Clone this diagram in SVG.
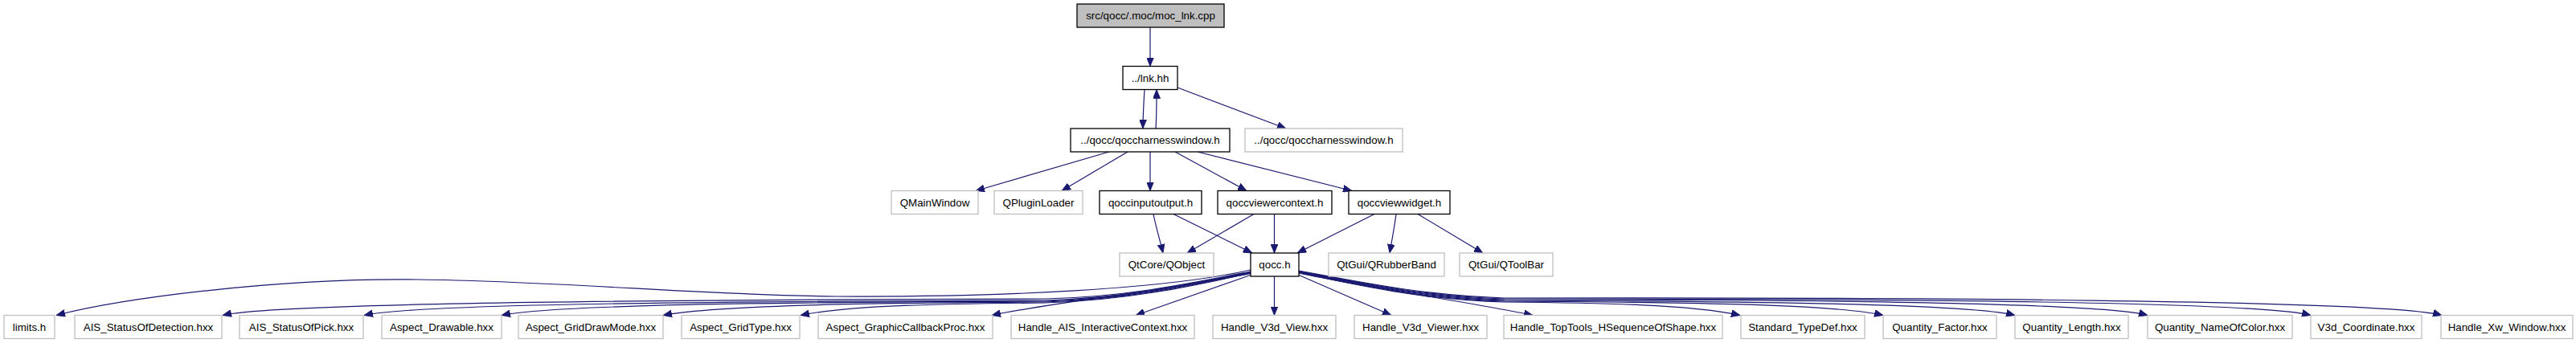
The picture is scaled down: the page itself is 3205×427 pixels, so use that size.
<svg xmlns="http://www.w3.org/2000/svg" width="3205" height="427" viewBox="0 0 3205 427">
<defs>
<style>
rect{fill:#fff;stroke:#000;stroke-width:1.3}
.g rect{stroke:#bfbfbf}
.root rect{fill:#bfbfbf}
text{font-family:"Liberation Sans",Arial,sans-serif;font-size:13.33px;text-anchor:middle;fill:#000}
#edges path{fill:none;stroke:#191970;stroke-width:1.2;marker-end:url(#ah)}
</style>
<marker id="ah" markerUnits="userSpaceOnUse" markerWidth="11" markerHeight="9" refX="11" refY="4.5" orient="auto">
<path d="M0,0 L11,4.5 L0,9 z" fill="#191970" stroke="#191970" stroke-width="0.8"/>
</marker>
</defs>
<rect x="0" y="0" width="3205" height="427" style="fill:#fff;stroke:none"/>
<g id="edges">
<path d="M1431,34 L1431,82.5"/>
<path d="M1424,111.5 C1423,128 1422,143 1422,160"/>
<path d="M1438,160 C1439,145 1439,128 1439,111.5"/>
<path d="M1465,109 L1600,160"/>
<path d="M1380,189 L1214,237.5"/>
<path d="M1403,189 L1321,237.5"/>
<path d="M1431,189 L1431,237.5"/>
<path d="M1462,189 L1551,237.5"/>
<path d="M1490,189 L1682,237.5"/>
<path d="M1435,266.5 C1438,282 1443,298 1447,315"/>
<path d="M1460,266.5 L1558,315"/>
<path d="M1560,266.5 L1477,315"/>
<path d="M1585.5,266.5 L1585.5,315"/>
<path d="M1710,266.5 L1614,315"/>
<path d="M1737,266.5 C1735,282 1732,298 1729,315"/>
<path d="M1764,266.5 L1845,315"/>
<path d="M1557,342 L1413,392.5"/>
<path d="M1585.5,344 L1585.5,392.5"/>
<path d="M1615,342 L1731,392.5"/>
<path d="M1556,336 C1450,360 1250,370 1040,369 C880,368 700,350 520,348 C340,346 150,372 70,392.5"/>
<path d="M1556,338 C1480,353 1400,370 1300,372 C891,373 347,376 277,392.5"/>
<path d="M1556,338.5 C1480,354 1400,371 1300,374 C961,375 523,377 453,392.5"/>
<path d="M1556,339 C1480,355 1400,372 1300,375 C1030,376 694,378 624,392.5"/>
<path d="M1556,339.5 C1480,356 1400,373 1300,376 C1110,377 895,379 825,392.5"/>
<path d="M1556,340 C1480,357 1400,374 1300,377 C1178,378 1056,380 996,392.5"/>
<path d="M1556,340.5 C1460,360 1300,378 1234,392.5"/>
<path d="M1616,340 C1700,358 1840,378 1907,392.5"/>
<path d="M1616,339.5 C1692,356 1772,373 1872,376 C1989,377 2105,379 2165,392.5"/>
<path d="M1616,339 C1692,355 1772,372 1872,375 C2060,376 2283,378 2343,392.5"/>
<path d="M1616,338.5 C1692,354 1772,371 1872,374 C2126,375 2447,377 2507,392.5"/>
<path d="M1616,338 C1692,353 1772,370 1872,373 C2192,373 2612,376 2672,392.5"/>
<path d="M1616,337.5 C1692,352 1772,369 1872,372 C2273,372 2805,374 2875,392.5"/>
<path d="M1616,337 C1692,351 1772,368 1872,371 C2341,370 2968,373 3038,392.5"/>
</g>
<g id="n_root" class="root"><rect x="1340" y="5" width="183" height="29"/><text x="1431.5" y="24">src/qocc/.moc/moc_lnk.cpp</text></g>
<g id="n_lnk"><rect x="1397" y="82.5" width="68" height="29"/><text x="1431" y="101.5">../lnk.hh</text></g>
<g id="n_charness"><rect x="1332" y="160" width="198" height="29"/><text x="1431" y="179">../qocc/qoccharnesswindow.h</text></g>
<g id="n_charness2" class="g"><rect x="1549" y="160" width="196" height="29"/><text x="1647" y="179">../qocc/qoccharnesswindow.h</text></g>
<g id="n_qmainwindow" class="g"><rect x="1109" y="237.5" width="108" height="29"/><text x="1163" y="256.5">QMainWindow</text></g>
<g id="n_qpluginloader" class="g"><rect x="1237" y="237.5" width="110" height="29"/><text x="1292" y="256.5">QPluginLoader</text></g>
<g id="n_qoccinputoutput"><rect x="1368" y="237.5" width="127" height="29"/><text x="1431.5" y="256.5">qoccinputoutput.h</text></g>
<g id="n_qoccviewercontext"><rect x="1515" y="237.5" width="142" height="29"/><text x="1586" y="256.5">qoccviewercontext.h</text></g>
<g id="n_qoccviewwidget"><rect x="1678" y="237.5" width="126" height="29"/><text x="1741" y="256.5">qoccviewwidget.h</text></g>
<g id="n_qobject" class="g"><rect x="1393" y="315" width="117" height="29"/><text x="1451.5" y="334">QtCore/QObject</text></g>
<g id="n_qocc"><rect x="1556" y="315" width="60" height="29"/><text x="1586" y="334">qocc.h</text></g>
<g id="n_qrubberband" class="g"><rect x="1653" y="315" width="144" height="29"/><text x="1725" y="334">QtGui/QRubberBand</text></g>
<g id="n_qtoolbar" class="g"><rect x="1816" y="315" width="116" height="29"/><text x="1874" y="334">QtGui/QToolBar</text></g>
<g id="n_limits" class="g"><rect x="5" y="392.5" width="63" height="29"/><text x="36.5" y="411.5">limits.h</text></g>
<g id="n_aisdet" class="g"><rect x="93" y="392.5" width="183" height="29"/><text x="184.5" y="411.5">AIS_StatusOfDetection.hxx</text></g>
<g id="n_aispick" class="g"><rect x="298" y="392.5" width="154" height="29"/><text x="375" y="411.5">AIS_StatusOfPick.hxx</text></g>
<g id="n_drawable" class="g"><rect x="475" y="392.5" width="149" height="29"/><text x="549.5" y="411.5">Aspect_Drawable.hxx</text></g>
<g id="n_griddrawmode" class="g"><rect x="645" y="392.5" width="180" height="29"/><text x="735" y="411.5">Aspect_GridDrawMode.hxx</text></g>
<g id="n_gridtype" class="g"><rect x="848" y="392.5" width="147" height="29"/><text x="921.5" y="411.5">Aspect_GridType.hxx</text></g>
<g id="n_callback" class="g"><rect x="1018" y="392.5" width="217" height="29"/><text x="1126.5" y="411.5">Aspect_GraphicCallbackProc.hxx</text></g>
<g id="n_aisctx" class="g"><rect x="1258" y="392.5" width="228" height="29"/><text x="1372" y="411.5">Handle_AIS_InteractiveContext.hxx</text></g>
<g id="n_v3dview" class="g"><rect x="1509" y="392.5" width="153" height="29"/><text x="1585.5" y="411.5">Handle_V3d_View.hxx</text></g>
<g id="n_v3dviewer" class="g"><rect x="1685" y="392.5" width="165" height="29"/><text x="1767.5" y="411.5">Handle_V3d_Viewer.hxx</text></g>
<g id="n_hseq" class="g"><rect x="1871" y="392.5" width="272" height="29"/><text x="2007" y="411.5">Handle_TopTools_HSequenceOfShape.hxx</text></g>
<g id="n_typedef" class="g"><rect x="2166" y="392.5" width="154" height="29"/><text x="2243" y="411.5">Standard_TypeDef.hxx</text></g>
<g id="n_qfactor" class="g"><rect x="2343" y="392.5" width="141" height="29"/><text x="2413.5" y="411.5">Quantity_Factor.hxx</text></g>
<g id="n_qlength" class="g"><rect x="2507" y="392.5" width="141" height="29"/><text x="2577.5" y="411.5">Quantity_Length.hxx</text></g>
<g id="n_qcolor" class="g"><rect x="2672" y="392.5" width="180" height="29"/><text x="2762" y="411.5">Quantity_NameOfColor.hxx</text></g>
<g id="n_v3dcoord" class="g"><rect x="2875" y="392.5" width="138" height="29"/><text x="2944" y="411.5">V3d_Coordinate.hxx</text></g>
<g id="n_xwwindow" class="g"><rect x="3037" y="392.5" width="164" height="29"/><text x="3119" y="411.5">Handle_Xw_Window.hxx</text></g>
</svg>
